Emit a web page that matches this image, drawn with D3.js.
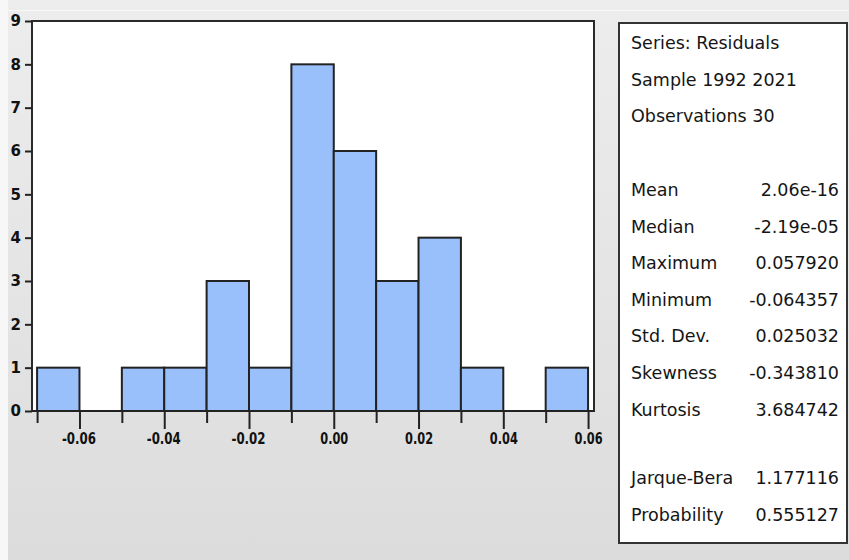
<!DOCTYPE html>
<html>
<head>
<meta charset="utf-8">
<script src="https://cdn.jsdelivr.net/npm/d3@7"></script>
<style>
  body { margin: 0; background: #e4e4e4; }
  svg { display: block; }
</style>
</head>
<body>
<div id="chart-area"></div>
<script>
// histogram data (bins of width 0.01)
const binLower = [-0.07, -0.06, -0.05, -0.04, -0.03, -0.02, -0.01, 0.00, 0.01, 0.02, 0.03, 0.04, 0.05];
const binUpper = [-0.06, -0.05, -0.04, -0.03, -0.02, -0.01, 0.00, 0.01, 0.02, 0.03, 0.04, 0.05, 0.06];
const counts   = [1, 0, 1, 1, 3, 1, 8, 6, 3, 4, 1, 0, 1];

const xMajorTicks = [-0.06, -0.04, -0.02, 0.00, 0.02, 0.04, 0.06];
const xMajorLabels = ['-0.06', '-0.04', '-0.02', '0.00', '0.02', '0.04', '0.06'];
const xMinorTicks = [-0.07, -0.05, -0.03, -0.01, 0.01, 0.03, 0.05];
const yTicks = [0, 1, 2, 3, 4, 5, 6, 7, 8, 9];

// stats box text
const headerLines = ['Series: Residuals', 'Sample 1992 2021', 'Observations 30'];
const statNames  = ['Mean', 'Median', 'Maximum', 'Minimum', 'Std. Dev.', 'Skewness', 'Kurtosis'];
const statValues = ['2.06e-16', '-2.19e-05', '0.057920', '-0.064357', '0.025032', '-0.343810', '3.684742'];
const testNames  = ['Jarque-Bera', 'Probability'];
const testValues = ['1.177116', '0.555127'];

const W = 849, H = 560;

const svg = d3.select('#chart-area')
    .append('svg')
        .attr('width', W)
        .attr('height', H);

// background
const defs = svg.append('defs');
const grad = defs.append('linearGradient')
    .attr('id', 'bg')
    .attr('x1', 0).attr('y1', 0).attr('x2', 0).attr('y2', 1);
grad.append('stop').attr('offset', '0%').attr('stop-color', '#ededed');
grad.append('stop').attr('offset', '100%').attr('stop-color', '#dcdcdc');

svg.append('rect')
    .attr('width', W).attr('height', H)
    .attr('fill', 'url(#bg)');
svg.append('rect')
    .attr('width', 8).attr('height', H)
    .attr('fill', '#f7f7f7');
svg.append('line')
    .attr('x1', 8).attr('x2', W)
    .attr('y1', 10.5).attr('y2', 10.5)
    .attr('stroke', '#f8f8f8');

// plot area
const plot = { left: 32, right: 594, top: 21, bottom: 411 };

const x = d3.scaleLinear()
    .domain([-0.0712, 0.0614])
    .range([plot.left, plot.right]);

const y = d3.scaleLinear()
    .domain([0, 9])
    .range([plot.bottom, plot.top]);

svg.append('rect')
    .attr('x', plot.left)
    .attr('y', plot.top)
    .attr('width', plot.right - plot.left)
    .attr('height', plot.bottom - plot.top)
    .attr('fill', '#ffffff')
    .attr('stroke', '#2a2a2a')
    .attr('stroke-width', 2);

// bars
svg.append('g')
    .selectAll('rect')
    .data(counts.map((c, i) => ({ lo: binLower[i], hi: binUpper[i], c })).filter(d => d.c > 0))
    .enter()
        .append('rect')
            .attr('x', d => x(d.lo))
            .attr('y', d => y(d.c))
            .attr('width', d => x(d.hi) - x(d.lo))
            .attr('height', d => y(0) - y(d.c))
            .attr('fill', '#99c0fb')
            .attr('stroke', '#222')
            .attr('stroke-width', 2);

// x axis: minor ticks
const xMinor = svg.append('g')
    .attr('transform', `translate(0, ${plot.bottom})`)
    .call(d3.axisBottom(x).tickValues(xMinorTicks).tickSize(12).tickFormat(''));
xMinor.select('.domain').remove();

// x axis: major ticks
const xAxis = svg.append('g')
    .attr('transform', `translate(0, ${plot.bottom})`)
    .call(d3.axisBottom(x)
        .tickValues(xMajorTicks)
        .tickSize(18)
        .tickPadding(4)
        .tickFormat((d, i) => xMajorLabels[i]));
xAxis.select('.domain')
    .attr('d', `M${plot.left},0H${plot.right}`);
xAxis.selectAll('line, path')
    .attr('stroke', '#222')
    .attr('stroke-width', 2);
xMinor.selectAll('line')
    .attr('stroke', '#222')
    .attr('stroke-width', 2);
xAxis.selectAll('text')
    .style('font-family', 'DejaVu Sans, sans-serif')
    .style('font-size', '16px')
    .style('font-weight', 'bold')
    .attr('fill', '#111')
    .attr('textLength', d => d < 0 ? 34 : 28)
    .attr('lengthAdjust', 'spacingAndGlyphs')
    .attr('x', d => d < 0 ? -1 : 0);

// y axis
const yAxis = svg.append('g')
    .attr('transform', `translate(${plot.left}, 0)`)
    .call(d3.axisLeft(y)
        .tickValues(yTicks)
        .tickSize(7)
        .tickPadding(4)
        .tickFormat(d3.format('d')));
yAxis.select('.domain').remove();
yAxis.selectAll('line')
    .attr('stroke', '#222')
    .attr('stroke-width', 2);
yAxis.selectAll('text')
    .style('font-family', 'DejaVu Sans, sans-serif')
    .style('font-size', '15px')
    .style('font-weight', 'bold')
    .attr('fill', '#111');

// stats box
svg.append('rect')
    .attr('x', 619)
    .attr('y', 23)
    .attr('width', 228)
    .attr('height', 520)
    .attr('fill', '#ffffff')
    .attr('stroke', '#333')
    .attr('stroke-width', 2);

const textStyle = sel => sel
    .style('font-family', 'DejaVu Sans, sans-serif')
    .style('font-size', '17.5px')
    .attr('fill', '#151515');

const rowY = 49, rowStep = 36.6;

svg.append('g').selectAll('text')
    .data(headerLines)
    .enter()
        .append('text')
            .attr('x', 631)
            .attr('y', (d, i) => rowY + i * rowStep)
            .call(textStyle)
            .text(d => d);

const statTop = 196;
const statRows = svg.append('g');
statRows.selectAll('text.name')
    .data(statNames)
    .enter()
        .append('text')
            .attr('class', 'name')
            .attr('x', 631)
            .attr('y', (d, i) => statTop + i * rowStep)
            .call(textStyle)
            .text(d => d);
statRows.selectAll('text.value')
    .data(statValues)
    .enter()
        .append('text')
            .attr('class', 'value')
            .attr('x', 839)
            .attr('y', (d, i) => statTop + i * rowStep)
            .attr('text-anchor', 'end')
            .call(textStyle)
            .text(d => d);

const testTop = 484;
const testRows = svg.append('g');
testRows.selectAll('text.name')
    .data(testNames)
    .enter()
        .append('text')
            .attr('class', 'name')
            .attr('x', 631)
            .attr('y', (d, i) => testTop + i * rowStep)
            .call(textStyle)
            .text(d => d);
testRows.selectAll('text.value')
    .data(testValues)
    .enter()
        .append('text')
            .attr('class', 'value')
            .attr('x', 839)
            .attr('y', (d, i) => testTop + i * rowStep)
            .attr('text-anchor', 'end')
            .call(textStyle)
            .text(d => d);
</script>
</body>
</html>
